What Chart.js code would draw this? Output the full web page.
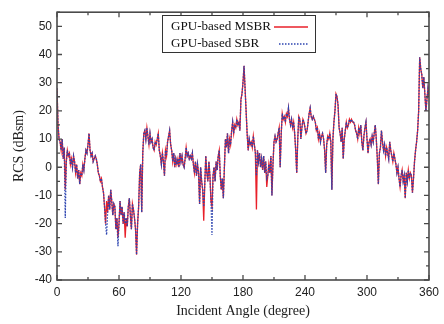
<!DOCTYPE html>
<html><head><meta charset="utf-8">
<script src="https://cdn.jsdelivr.net/npm/chart.js@4"></script>
<style>html,body{margin:0;padding:0;background:#fff}canvas{display:block}</style>
</head><body>
<canvas id="c" width="444" height="324"></canvas>
<script>
const angles = [
0,1,2,3,4,5,6,7,8,9,10,11,12,13,14,15,16,17,18,19,
20,21,22,23,24,25,26,27,28,29,30,31,32,33,34,35,36,37,38,39,
40,41,42,43,44,45,46,47,48,49,50,51,52,53,54,55,56,57,58,59,
60,61,62,63,64,65,66,67,68,69,70,71,72,73,74,75,76,77,78,79,
80,81,82,83,84,85,86,87,88,89,90,91,92,93,94,95,96,97,98,99,
100,101,102,103,104,105,106,107,108,109,110,111,112,113,114,115,116,117,118,119,
120,121,122,123,124,125,126,127,128,129,130,131,132,133,134,135,136,137,138,139,
140,141,142,143,144,145,146,147,148,149,150,151,152,153,154,155,156,157,158,159,
160,161,162,163,164,165,166,167,168,169,170,171,172,173,174,175,176,177,178,179,
180,181,182,183,184,185,186,187,188,189,190,191,192,193,194,195,196,197,198,199,
200,201,202,203,204,205,206,207,208,209,210,211,212,213,214,215,216,217,218,219,
220,221,222,223,224,225,226,227,228,229,230,231,232,233,234,235,236,237,238,239,
240,241,242,243,244,245,246,247,248,249,250,251,252,253,254,255,256,257,258,259,
260,261,262,263,264,265,266,267,268,269,270,271,272,273,274,275,276,277,278,279,
280,281,282,283,284,285,286,287,288,289,290,291,292,293,294,295,296,297,298,299,
300,301,302,303,304,305,306,307,308,309,310,311,312,313,314,315,316,317,318,319,
320,321,322,323,324,325,326,327,328,329,330,331,332,333,334,335,336,337,338,339,
340,341,342,343,344,345,346,347,348,349,350,351,352,353,354,355,356,357,358,359,360];

const msbr = [
28,15,10,9,6,10,3,7,-8,2,
6,4,5,1,3,0,4,2,-2,1,
-4,-1,-6,-2,-3,1,-1,3,6,5,
8,12,6,4,5,2,3,4,3,1,
-2,-3,-5,-4,-7,-9,-14,-20,-12,-16,
-10,-15,-8,-12,-17,-13,-14,-22,-18,-25,
-20,-12,-17,-14,-20,-16,-25,-18,-21,-14,
-11,-17,-22,-13,-15,-18,-22,-31,-20,-14,
-2,1,-16,5,12,13,10,14,11,8,
12,9,10,7,6,9,8,10,12,6,
4,1,5,2,-3,6,4,9,11,13,
8,6,2,5,0,3,1,3,0,5,
2,4,1,0,3,7,4,5,3,4,
3,5,1,-2,2,-3,1,-2,-13,0,
-5,-8,-19,-6,4,-2,-5,2,-3,-12,
-14,-3,0,-5,2,-1,4,6,-3,-8,
-4,-11,0,10,7,12,5,10,8,13,
16,12,15,14,17,15,16,13,24,26,
30,36,28,20,12,6,10,8,9,7,
11,8,5,-15,6,2,5,0,3,-1,
4,-2,2,-7,-3,1,-2,4,-10,1,
9,11,9,10,12,14,0,12,19,17,
18,16,19,18,21,17,15,17,14,16,
12,6,-2,10,18,17,10,14,17,16,
14,12,13,16,19,21,18,17,18,17,
16,13,14,10,12,9,11,12,10,6,
-2,8,11,10,12,9,-8,10,16,20,
26,25,22,14,12,9,14,3,10,13,
16,14,15,17,16,17,16,16,15,13,
12,10,14,12,15,9,6,11,14,16,
10,5,9,10,8,11,9,12,15,10,
3,-6,5,7,13,9,6,8,4,7,
5,3,9,6,4,2,5,3,1,-2,
0,-4,-7,-3,-1,-5,-3,-11,-2,-5,
-1,-4,-2,-3,-9,-4,2,6,9,13,
20,39,35,33,28,32,26,20,24,28,25];

const sbr = [
28,15,10,9,6,10,3,7,-18,2,
6,4,5,1,3,0,4,2,-2,1,
-4,-1,-6,-2,-3,1,-1,3,6,5,
8,12,6,4,5,2,3,4,3,1,
-2,-3,-5,-4,-7,-9,-14,-20,-24,-16,
-10,-15,-8,-12,-17,-13,-14,-22,-18,-28,
-20,-12,-17,-14,-20,-16,-20,-18,-21,-14,
-11,-17,-22,-13,-15,-18,-22,-31,-20,-14,
-2,1,-16,5,12,13,10,14,11,8,
12,9,10,7,6,9,8,10,12,6,
4,1,5,2,-3,6,4,9,11,13,
8,6,2,5,0,3,1,3,0,5,
2,4,1,0,3,7,4,5,3,4,
3,5,1,-2,2,-3,1,-2,-13,0,
-5,-8,-14,-6,4,-2,-5,2,-3,-12,
-24,-3,0,-5,2,-1,4,6,-3,-8,
-4,-11,0,10,7,12,5,10,8,13,
16,12,15,14,17,15,16,13,24,26,
30,36,28,20,12,6,10,8,9,7,
11,8,5,-3,6,2,5,0,3,-1,
4,-2,2,-4,-3,1,-2,4,-10,1,
9,11,9,10,12,14,0,12,19,17,
18,16,19,18,21,17,15,17,14,16,
12,6,-2,10,18,17,10,14,17,16,
14,12,13,16,19,21,18,17,18,17,
16,13,14,10,12,9,11,12,10,6,
-2,8,11,10,12,9,-8,10,16,20,
26,25,22,14,12,9,14,3,10,13,
16,14,15,17,16,17,16,16,15,13,
12,10,14,12,15,9,6,11,14,16,
10,5,9,10,8,11,9,12,15,10,
3,-6,5,7,13,9,6,8,4,7,
5,3,9,6,4,2,5,3,1,-2,
0,-4,-7,-3,-1,-5,-3,-11,-2,-5,
-1,-4,-2,-3,-9,-4,2,6,9,13,
20,39,35,33,28,32,26,20,24,28,25];

const seriesNames = ['GPU-based MSBR', 'GPU-based SBR'];
const xTicks = [0, 60, 120, 180, 240, 300, 360];
const yTicks = [-40, -30, -20, -10, 0, 10, 20, 30, 40, 50];
const xTitle = 'Incident Angle (degree)';
const yTitle = 'RCS (dBsm)';

const RED = '#e8202a', BLUE = '#2c44b0';
const pts = arr => arr.map((v, i) => ({x: angles[i], y: v}));

const framePlugin = {
  id: 'frame',
  afterDatasetsDraw(chart) {
    const {ctx, chartArea: a, scales: {x, y}} = chart;
    ctx.save();
    ctx.strokeStyle = '#4a4a4a';
    ctx.lineWidth = 1.6;
    ctx.strokeRect(a.left, a.top, a.right - a.left, a.bottom - a.top);
    ctx.lineWidth = 1.3;
    ctx.beginPath();
    for (let v = 0; v <= 360; v += 30) {
      const px = x.getPixelForValue(v);
      const L = (v % 60 === 0) ? 5 : 3;
      ctx.moveTo(px, a.bottom); ctx.lineTo(px, a.bottom - L);
      ctx.moveTo(px, a.top); ctx.lineTo(px, a.top + L);
    }
    for (let v = -40; v <= 55; v += 5) {
      const py = y.getPixelForValue(v);
      const L = (v % 10 === 0) ? 5 : 3;
      ctx.moveTo(a.left, py); ctx.lineTo(a.left + L, py);
      ctx.moveTo(a.right, py); ctx.lineTo(a.right - L, py);
    }
    ctx.stroke();
    // legend
    const bx = 162, by = 15, bw = 153, bh = 37;
    ctx.fillStyle = '#fff';
    ctx.fillRect(bx, by, bw, bh);
    ctx.strokeStyle = '#333';
    ctx.lineWidth = 1;
    ctx.strokeRect(bx + 0.5, by + 0.5, bw, bh);
    ctx.fillStyle = '#111';
    const fam = '"Liberation Serif", "Times New Roman", serif';
    ctx.font = '14px ' + fam;
    const w = ctx.measureText(seriesNames[0]).width;
    const fs = 14 * 100 / w;
    ctx.font = fs.toFixed(2) + 'px ' + fam;
    ctx.textBaseline = 'middle';
    ctx.textAlign = 'left';
    ctx.fillText(seriesNames[0], 171, 27);
    ctx.fillText(seriesNames[1], 171, 44);
    ctx.lineWidth = 1.3;
    ctx.strokeStyle = RED;
    ctx.beginPath(); ctx.moveTo(274, 27); ctx.lineTo(308, 27); ctx.stroke();
    ctx.strokeStyle = BLUE;
    ctx.setLineDash([1.5, 1.5]);
    ctx.beginPath(); ctx.moveTo(279, 44); ctx.lineTo(308, 44); ctx.stroke();
    ctx.restore();
  }
};

new Chart(document.getElementById('c'), {
  type: 'line',
  data: {
    datasets: [
      {label: seriesNames[0], data: pts(msbr), borderColor: RED, borderWidth: 1.3,
       pointRadius: 0, tension: 0, order: 1},
      {label: seriesNames[1], data: pts(sbr), borderColor: BLUE, borderWidth: 1.3,
       borderDash: [1.5, 1.5], pointRadius: 0, tension: 0, order: 0}
    ]
  },
  options: {
    responsive: false, animation: false, devicePixelRatio: 1,
    layout: {padding: {top: 6, right: 14, left: 0, bottom: 0}},
    plugins: {legend: {display: false}, tooltip: {enabled: false}},
    scales: {
      x: {
        type: 'linear', min: 0, max: 360,
        afterBuildTicks: s => { s.ticks = xTicks.map(v => ({value: v})); },
        afterFit: s => { s.height = 44; },
        grid: {display: false, drawTicks: false}, border: {display: false},
        ticks: {padding: 5, color: '#222', font: {family: '"Liberation Sans", Arial, sans-serif', size: 12}, maxRotation: 0},
        title: {display: true, text: xTitle, color: '#222', padding: {top: 0, bottom: 4},
                font: {family: '"Liberation Serif", "Times New Roman", serif', size: 14}}
      },
      y: {
        type: 'linear', min: -40, max: 55,
        afterBuildTicks: s => { s.ticks = yTicks.map(v => ({value: v})); },
        afterFit: s => { s.width = 57; },
        grid: {display: false, drawTicks: false}, border: {display: false},
        ticks: {padding: 5, color: '#222', font: {family: '"Liberation Sans", Arial, sans-serif', size: 12}},
        title: {display: true, text: yTitle, color: '#222', padding: {top: 11, bottom: 0},
                font: {family: '"Liberation Serif", "Times New Roman", serif', size: 14}}
      }
    }
  },
  plugins: [framePlugin]
});
</script>
</body></html>
